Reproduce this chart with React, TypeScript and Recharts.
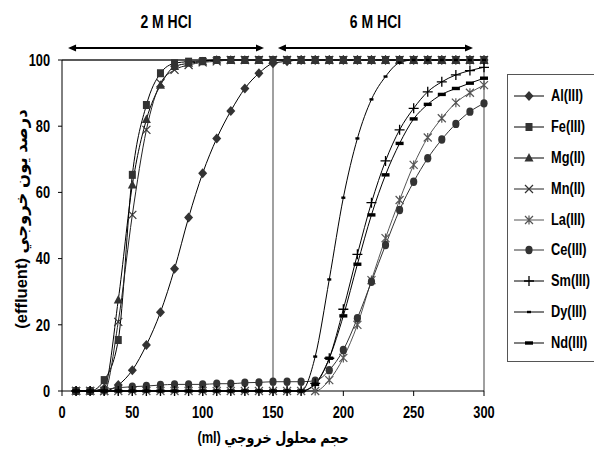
import React from "react";
import { LineChart, Line, XAxis, YAxis, ReferenceLine, Legend } from "recharts";

const volume = [10, 20, 30, 40, 50, 60, 70, 80, 90, 100, 110, 120, 130, 140, 150, 160, 170, 180, 190, 200, 210, 220, 230, 240, 250, 260, 270, 280, 290, 300];

const al = [0, 0, 0, 1.8, 6.3, 13.9, 23.8, 36.9, 52.4, 65.8, 76.3, 84.6, 91.4, 96, 99, 99.6, 100, 100, 100, 100, 100, 100, 100, 100, 100, 100, 100, 100, 100, 100];
const fe = [0, 0, 3.3, 15.4, 65.3, 86.4, 96, 99, 99.5, 99.7, 100, 100, 100, 100, 100, 100, 100, 100, 100, 100, 100, 100, 100, 100, 100, 100, 100, 100, 100, 100];
const mg = [0, 0, 1, 27.5, 62.2, 82, 92.4, 98, 99, 99.5, 100, 100, 100, 100, 100, 100, 100, 100, 100, 100, 100, 100, 100, 100, 100, 100, 100, 100, 100, 100];
const mn = [0, 0, 0, 20.9, 53.2, 78.9, 93, 97, 98.5, 99.3, 99.6, 100, 100, 100, 100, 100, 100, 100, 100, 100, 100, 100, 100, 100, 100, 100, 100, 100, 100, 100];
const la = [0, 0, 0, 0, 0, 0, 0, 0, 0, 0, 0, 0, 0, 0, 0, 0, 0, 0, 3.3, 10, 20, 33.5, 46.2, 57.7, 68.3, 76.6, 82.4, 87.1, 90.1, 92.4];
const ce = [0, 0, 0.5, 1, 1.3, 1.5, 1.8, 2, 2, 2, 2.2, 2.2, 2.5, 2.6, 2.8, 2.8, 2.8, 3.1, 6.3, 12.4, 22, 33, 44.1, 54.7, 63.2, 70.3, 76, 80.7, 84.4, 86.9];
const sm = [0, 0, 0, 0, 0, 0, 0, 0, 0, 0, 0, 0, 0, 0, 0, 0, 0, 2.3, 9.9, 24.7, 41.3, 56.9, 69.5, 78.9, 85.4, 90.4, 93.4, 95.5, 96.8, 97.8];
const dy = [0, 0, 0, 0, 0, 0, 0, 0, 0, 0, 0, 0, 0, 0, 0, 0, 0, 10.4, 33.7, 58.4, 76.3, 88.1, 95, 99.2, 100, 100, 100, 100, 100, 100];
const nd = [0, 0, 0, 0, 0, 0, 0, 0, 0, 0, 0, 0, 0, 0, 0, 0, 0, 2, 9.9, 22.7, 38.3, 53.2, 65.3, 74.8, 82.2, 86.6, 89.6, 91.4, 93, 94.5];

const xTicks = [0, 50, 100, 150, 200, 250, 300];
const yTicks = [0, 20, 40, 60, 80, 100];

const series = [
  { key: "al", label: "Al(III)", values: al, shape: "diamond", color: "#333", line: "#000" },
  { key: "fe", label: "Fe(III)", values: fe, shape: "square", color: "#333", line: "#000" },
  { key: "mg", label: "Mg(II)", values: mg, shape: "triangle", color: "#333", line: "#000" },
  { key: "mn", label: "Mn(II)", values: mn, shape: "cross", color: "#333", line: "#222" },
  { key: "la", label: "La(III)", values: la, shape: "star", color: "#555", line: "#555" },
  { key: "ce", label: "Ce(III)", values: ce, shape: "circle", color: "#333", line: "#333" },
  { key: "sm", label: "Sm(III)", values: sm, shape: "plus", color: "#000", line: "#000" },
  { key: "dy", label: "Dy(III)", values: dy, shape: "dash", color: "#000", line: "#000" },
  { key: "nd", label: "Nd(III)", values: nd, shape: "bar", color: "#000", line: "#000" },
];

const data = volume.map((v, i) => {
  const row: Record<string, number> = { volume: v };
  series.forEach((s) => (row[s.key] = s.values[i]));
  return row;
});

// no narrow Arial here, so squeeze Liberation Sans bold sideways
const FONT = "'Liberation Sans', Arial, 'DejaVu Sans', sans-serif";
const SQUEEZE = 0.8;

function Marker({ shape, cx, cy, color }: { shape: string; cx: number; cy: number; color: string }) {
  switch (shape) {
    case "diamond":
      return <polygon points={`${cx},${cy - 5} ${cx + 4.5},${cy} ${cx},${cy + 5} ${cx - 4.5},${cy}`} fill={color} />;
    case "square":
      return <rect x={cx - 3.5} y={cy - 4} width={7} height={8} fill={color} />;
    case "triangle":
      return <polygon points={`${cx},${cy - 5} ${cx + 4.5},${cy + 3.5} ${cx - 4.5},${cy + 3.5}`} fill={color} />;
    case "cross":
      return <path d={`M${cx - 4},${cy - 4}L${cx + 4},${cy + 4}M${cx + 4},${cy - 4}L${cx - 4},${cy + 4}`} stroke={color} strokeWidth={1.2} />;
    case "star":
      return (
        <path
          d={`M${cx - 4},${cy - 4}L${cx + 4},${cy + 4}M${cx + 4},${cy - 4}L${cx - 4},${cy + 4}M${cx},${cy - 4.5}L${cx},${cy + 4.5}`}
          stroke={color}
          strokeWidth={1.2}
        />
      );
    case "circle":
      return <ellipse cx={cx} cy={cy} rx={3.6} ry={4.2} fill={color} />;
    case "plus":
      return <path d={`M${cx - 5},${cy}L${cx + 5},${cy}M${cx},${cy - 5}L${cx},${cy + 5}`} stroke={color} strokeWidth={1.3} />;
    case "dash":
      return <rect x={cx - 2} y={cy - 1.2} width={4} height={2.4} fill={color} />;
    default:
      return <rect x={cx - 4} y={cy - 1.7} width={8} height={3.4} fill={color} />;
  }
}

function NarrowText({ x, y, anchor, dy, size, children }: any) {
  return (
    <text
      transform={`translate(${x} ${y}) scale(${SQUEEZE} 1)`}
      x={0}
      y={0}
      dy={dy}
      textAnchor={anchor}
      fontFamily={FONT}
      fontWeight={700}
      fontSize={size}
      fill="#000"
    >
      {children}
    </text>
  );
}

const XTick = (p: any) => (
  <NarrowText x={p.x} y={p.y} anchor="middle" dy="0.8em" size={16}>
    {p.payload.value}
  </NarrowText>
);

const YTick = (p: any) => (
  <NarrowText x={p.x} y={p.y} anchor="end" dy="0.36em" size={16}>
    {p.payload.value}
  </NarrowText>
);

function Arrow(props: any, text: string) {
  const { x1, y1, x2, y2 } = props;
  const h = 8;
  const w = 3.5;
  return (
    <g>
      <line x1={x1 + h - 1} y1={y1} x2={x2 - h + 1} y2={y2} stroke="#000" strokeWidth={2} />
      <polygon points={`${x1},${y1} ${x1 + h},${y1 - w} ${x1 + h},${y1 + w}`} fill="#000" />
      <polygon points={`${x2},${y2} ${x2 - h},${y2 - w} ${x2 - h},${y2 + w}`} fill="#000" />
      <NarrowText x={(x1 + x2) / 2} y={y1 - 20} anchor="middle" size={17.5}>
        {text}
      </NarrowText>
    </g>
  );
}

function LegendBox() {
  return (
    <div
      style={{
        width: 87,
        height: 288,
        boxSizing: "border-box",
        borderTop: "1px solid #555",
        borderLeft: "1px solid #555",
        borderBottom: "1px solid #555",
        paddingTop: 6,
        background: "#fff",
        fontFamily: FONT,
        fontWeight: 700,
        fontSize: 16,
        color: "#000",
      }}
    >
      {series.map((s) => (
        <div key={s.key} style={{ display: "flex", alignItems: "center", height: 30.8 }}>
          <svg width={40} height={16} style={{ flex: "none" }}>
            <line x1={6} x2={36} y1={8} y2={8} stroke={s.line} strokeWidth={1} />
            <Marker shape={s.shape} cx={21} cy={8} color={s.color} />
          </svg>
          <span
            style={{
              marginLeft: 3,
              whiteSpace: "nowrap",
              display: "inline-block",
              transform: `scaleX(${SQUEEZE})`,
              transformOrigin: "left center",
            }}
          >
            {s.label}
          </span>
        </div>
      ))}
    </div>
  );
}

export default function App() {
  return (
    <div style={{ position: "absolute", left: 0, top: 0, width: 594, height: 457, overflow: "hidden", background: "#fff" }}>
      <LineChart width={594} height={457} data={data} margin={{ top: 60, right: 110, bottom: 0, left: 0 }}>
        <XAxis
          dataKey="volume"
          type="number"
          domain={[0, 300]}
          ticks={xTicks}
          height={66}
          tickSize={5}
          tickMargin={9}
          tick={XTick}
          stroke="#000"
          label={{
            content: () => (
              <NarrowText x={273} y={443} anchor="middle" size={16}>
                (ml) حجم محلول خروجي
              </NarrowText>
            ),
          }}
        />
        <YAxis
          type="number"
          domain={[0, 100]}
          ticks={yTicks}
          width={62}
          tickSize={4}
          tickMargin={8}
          tick={YTick}
          stroke="#000"
          label={{
            content: () => (
              <text
                x={21}
                y={219}
                transform="rotate(-90 21 219)"
                textAnchor="middle"
                dominantBaseline="central"
                fontFamily={FONT}
                fontWeight={700}
                fontSize={16.5}
                fill="#000"
              >
                (effluent) درصد یون خروجي
              </text>
            ),
          }}
        />
        <ReferenceLine y={100} stroke="#222" strokeWidth={1.5} />
        <ReferenceLine x={300} stroke="#808080" strokeWidth={1.5} />
        <ReferenceLine
          segment={[{ x: 150, y: 2.6 }, { x: 150, y: 100 }]}
          stroke="#808080"
          strokeWidth={1.5}
        />
        <ReferenceLine
          segment={[{ x: 4.3, y: 103.6 }, { x: 143.6, y: 103.6 }]}
          ifOverflow="visible"
          shape={(p: any) => Arrow(p, "2 M HCl")}
        />
        <ReferenceLine
          segment={[{ x: 153.5, y: 103.6 }, { x: 292.2, y: 103.6 }]}
          ifOverflow="visible"
          shape={(p: any) => Arrow(p, "6 M HCl")}
        />
        {series.map((s) => (
          <Line
            key={s.key}
            dataKey={s.key}
            name={s.label}
            type="monotone"
            stroke={s.line}
            strokeWidth={1}
            isAnimationActive={false}
            activeDot={false}
            dot={(p: any) =>
              p.cx == null ? (
                <g key={`${s.key}-${p.index}`} />
              ) : (
                <Marker key={`${s.key}-${p.index}`} shape={s.shape} cx={p.cx} cy={p.cy} color={s.color} />
              )
            }
          />
        ))}
        <Legend
          layout="vertical"
          align="center"
          verticalAlign="middle"
          wrapperStyle={{ left: 507, top: 74, width: 87, height: 288 }}
          content={() => <LegendBox />}
        />
      </LineChart>
    </div>
  );
}
